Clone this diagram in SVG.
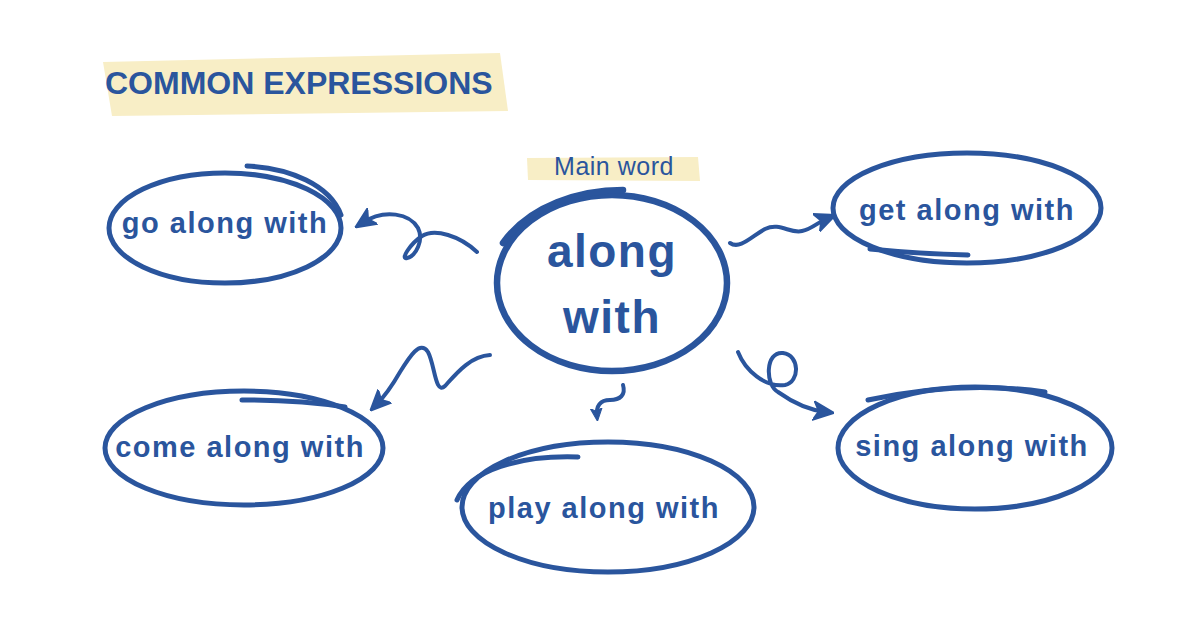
<svg xmlns="http://www.w3.org/2000/svg" width="1200" height="628" viewBox="0 0 1200 628">
<style>
.ol{fill:none;stroke:#2a559d;stroke-width:5;stroke-linecap:round;stroke-linejoin:round}
.main{stroke-width:6.5}
.lbl{font-family:"Liberation Sans",Arial,sans-serif;font-weight:bold;font-size:29px;letter-spacing:1.5px;fill:#2a559d;text-anchor:middle}
.big{font-family:"Liberation Sans",Arial,sans-serif;font-weight:bold;font-size:46px;letter-spacing:1.5px;fill:#2a559d;text-anchor:middle}
.hl{fill:#f8eec6}
.conn{fill:none;stroke:#2a559d;stroke-width:4;stroke-linecap:round;stroke-linejoin:round}
</style>
<defs>
<marker id="ah" viewBox="0 0 10 10" refX="6" refY="5" markerWidth="21" markerHeight="21" markerUnits="userSpaceOnUse" orient="auto">
<path d="M0,0.5 L10,5 L0,9.5 L2.5,5 Z" fill="#2a559d" stroke="#2a559d" stroke-width="0.8" stroke-linejoin="round"/>
</marker>
<marker id="ahs" viewBox="0 0 10 10" refX="6" refY="5" markerWidth="13" markerHeight="13" markerUnits="userSpaceOnUse" orient="auto">
<path d="M0,0.5 L10,5 L0,9.5 L2.5,5 Z" fill="#2a559d" stroke="#2a559d" stroke-width="0.8" stroke-linejoin="round"/>
</marker>
</defs>
<rect width="1200" height="628" fill="#ffffff"/>

<g id="title">
<path class="hl" d="M103,62 L500,53 L508,111 L112,116 Z"/>
<text x="105" y="94" font-family="'Liberation Sans',Arial,sans-serif" font-weight="bold" font-size="32" fill="#2a559d">COMMON EXPRESSIONS</text>
</g>

<g id="connectors">
<path class="conn" marker-end="url(#ah)" d="M477,252 C 460,236 435,228 422,236 C 410,244 400,260 407,258 C 416,256 424,240 418,228 C 410,214 385,208 362,223"/>
<path class="conn" marker-end="url(#ah)" d="M730,243 C 740,250 752,236 765,229 C 780,222 790,234 802,231 C 812,229 818,222 828,218"/>
<path class="conn" marker-end="url(#ah)" d="M490,355 C 470,356 455,375 445,386 C 435,395 435,365 428,352 C 420,340 410,356 400,372 C 392,386 385,396 376,405"/>
<path class="conn" marker-end="url(#ahs)" d="M623,385 C 626,395 620,400 610,400 C 600,400 596,406 597,416"/>
<path class="conn" marker-end="url(#ah)" d="M738,352 C 745,370 765,388 785,385 C 800,382 800,355 783,353 C 765,351 765,385 778,392 C 792,402 808,410 826,412"/>
</g>

<g id="main-word">
<path class="hl" d="M527,158 L698,157 L700,181 L528,180 Z"/>
<text x="614" y="175" text-anchor="middle" font-family="'Liberation Sans',Arial,sans-serif" font-size="25" letter-spacing="0.5" fill="#2a559d">Main word</text>
<ellipse class="ol main" cx="612" cy="283" rx="115" ry="88"/>
<path class="ol main" d="M503,243 C 530,205 580,190 623,190"/>
<text class="big" x="612" y="267">along</text>
<text class="big" x="612" y="333">with</text>
</g>

<g id="node-go">
<ellipse class="ol" cx="225" cy="228" rx="116" ry="55"/>
<path class="ol" d="M247,166 C 290,168 330,185 341,215"/>
<text class="lbl" x="225" y="233">go along with</text>
</g>

<g id="node-get">
<ellipse class="ol" cx="967" cy="208" rx="134" ry="55"/>
<path class="ol" d="M870,249 Q 920,254 968,255"/>
<text class="lbl" x="967" y="220">get along with</text>
</g>

<g id="node-come">
<ellipse class="ol" cx="244" cy="448" rx="139" ry="57"/>
<path class="ol" d="M242,400 Q 300,400 345,407"/>
<text class="lbl" x="240" y="457">come along with</text>
</g>

<g id="node-play">
<ellipse class="ol" cx="608" cy="507" rx="146" ry="65"/>
<path class="ol" d="M457,500 C 470,470 520,455 578,457"/>
<text class="lbl" x="604" y="518">play along with</text>
</g>

<g id="node-sing">
<ellipse class="ol" cx="975" cy="448" rx="137" ry="61"/>
<path class="ol" d="M868,400 Q 960,380 1045,392"/>
<text class="lbl" x="972" y="456">sing along with</text>
</g>
</svg>
